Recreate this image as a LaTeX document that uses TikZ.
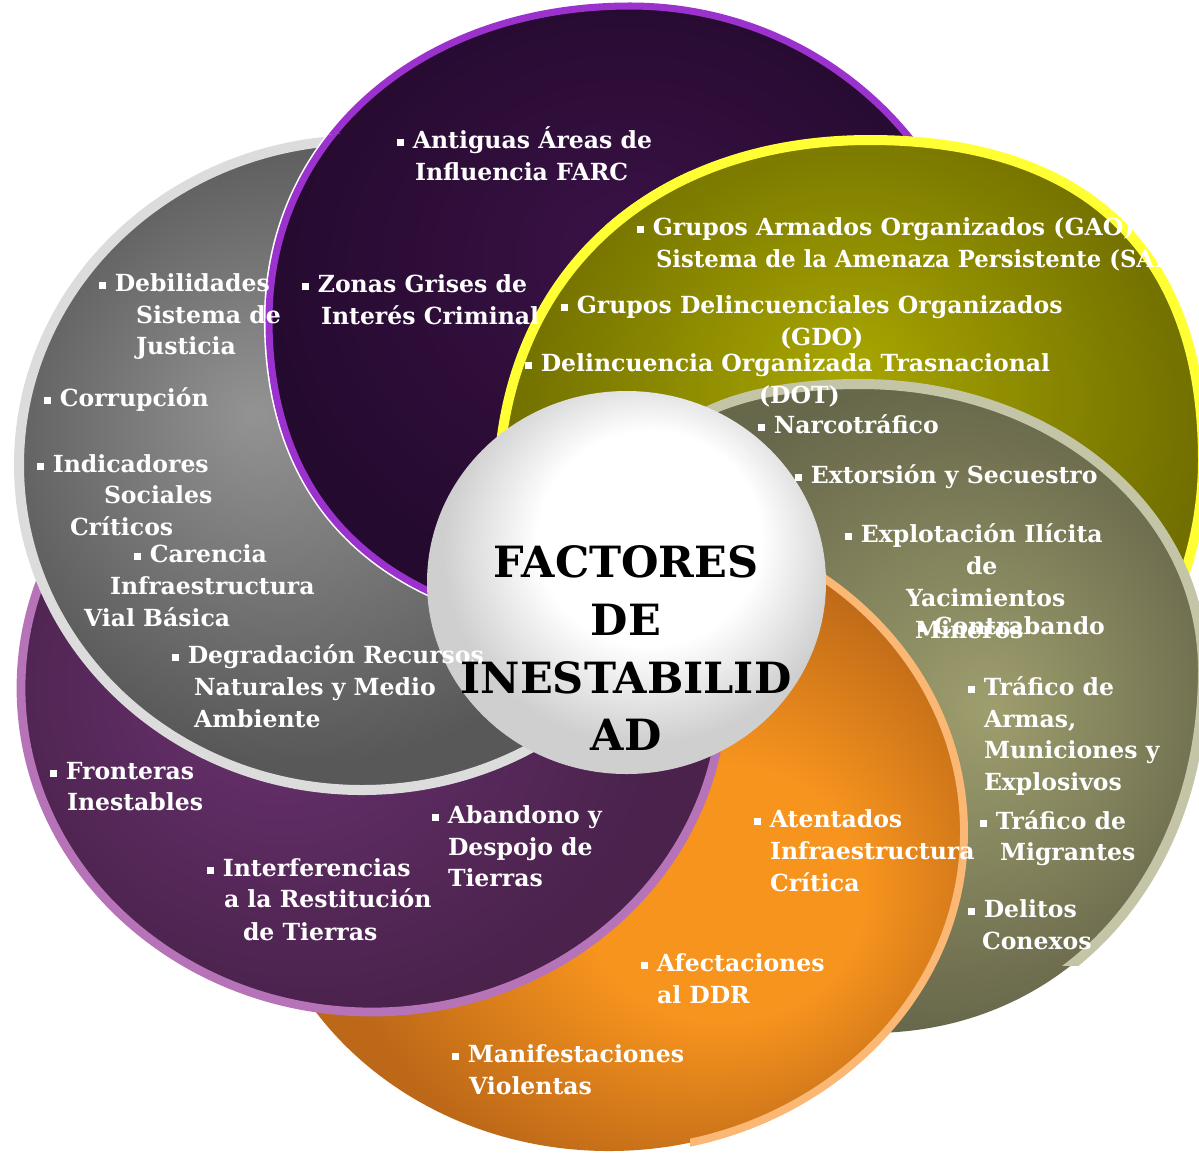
\documentclass[tikz,border=0pt]{standalone}
\usepackage{fontspec}
\usepackage{graphicx}
\setmainfont{DejaVu Serif}

\definecolor{sAin}{HTML}{3A1246}\definecolor{sAout}{HTML}{250A2F}\definecolor{cA}{HTML}{9B32CD}
\definecolor{sBin}{HTML}{A8A600}\definecolor{sBout}{HTML}{716F00}\definecolor{cB}{HTML}{FFFF33}
\definecolor{sCin}{HTML}{9E9E6E}\definecolor{sCout}{HTML}{67674B}\definecolor{cC}{HTML}{C4C4A6}
\definecolor{sDin}{HTML}{F7941E}\definecolor{sDout}{HTML}{BC6818}\definecolor{cD}{HTML}{FAB874}
\definecolor{sEin}{HTML}{6A3270}\definecolor{sEout}{HTML}{4A224C}\definecolor{cE}{HTML}{B673B8}
\definecolor{sFin}{HTML}{939393}\definecolor{sFout}{HTML}{585858}\definecolor{cF}{HTML}{DCDCDC}
\definecolor{sOout}{HTML}{CFCFCF}

\pgfdeclareradialshading{shA}{\pgfpoint{0bp}{6bp}}{color(0bp)=(sAin); color(25bp)=(sAout); color(50bp)=(sAout)}
\pgfdeclareradialshading{shB}{\pgfpoint{0bp}{8bp}}{color(0bp)=(sBin); color(25bp)=(sBout); color(50bp)=(sBout)}
\pgfdeclareradialshading{shC}{\pgfpoint{8bp}{0bp}}{color(0bp)=(sCin); color(25bp)=(sCout); color(50bp)=(sCout)}
\pgfdeclareradialshading{shD}{\pgfpoint{10bp}{-6bp}}{color(0bp)=(sDin); color(10bp)=(sDin); color(25bp)=(sDout); color(50bp)=(sDout)}
\pgfdeclareradialshading{shE}{\pgfpoint{-8bp}{0bp}}{color(0bp)=(sEin); color(25bp)=(sEout); color(50bp)=(sEout)}
\pgfdeclareradialshading{shF}{\pgfpoint{-8bp}{4bp}}{color(0bp)=(sFin); color(25bp)=(sFout); color(50bp)=(sFout)}
\pgfdeclareradialshading{shO}{\pgfpoint{4bp}{8bp}}{color(0bp)=(white); color(14bp)=(white); color(25bp)=(sOout); color(50bp)=(sOout)}

% shapes: top, right, bottom, left points joined by four cubic arcs
\newcommand{\pthA}{(630,6) .. controls (826,6) and (985,160) .. (985,350)
  .. controls (985,505) and (830,632) .. (640,632)
  .. controls (403,632) and (269,520) .. (269,320)
  .. controls (269,138) and (421,6) .. (630,6) -- cycle}
\newcommand{\pthB}{(870,140) .. controls (1086,140) and (1203,252) .. (1203,460)
  .. controls (1203,647) and (1058,800) .. (880,800)
  .. controls (667,800) and (498,665) .. (498,495)
  .. controls (498,280) and (647,140) .. (870,140) -- cycle}
\newcommand{\pthC}{(860,384) .. controls (1052,384) and (1203,510) .. (1203,670)
  .. controls (1203,880) and (1063,1033) .. (870,1033)
  .. controls (710,1033) and (580,874) .. (580,680)
  .. controls (580,473) and (664,384) .. (860,384) -- cycle}
\newcommand{\pthD}{(609,832) ellipse [x radius=355, y radius=319]}
\newcommand{\pthE}{(372,688) ellipse [x radius=351, y radius=324]}
\newcommand{\pthF}{(362,465) ellipse [x radius=343, y radius=325]}
\newcommand{\pthO}{(626.5,582.5) ellipse [x radius=199.5, y radius=191.5]}
\newcommand{\mybul}{\raisebox{1.4pt}{\rule{4pt}{4pt}}\hspace{5pt}}

\tikzset{
  bdA/.style={draw=cA, line width=4pt},
  bdB/.style={draw=cB, line width=5.7pt},
  bdC/.style={draw=cC, line width=5.7pt},
  bdD/.style={draw=cD, line width=4.5pt},
  bdE/.style={draw=cE, line width=5pt},
  bdF/.style={draw=cF, line width=5.7pt},
  txt/.style={anchor=base west, inner sep=0pt, outer sep=0pt, text=white,
              font=\fontsize{13.4pt}{16pt}\selectfont\bfseries},
  ttl/.style={anchor=base, inner sep=0pt, outer sep=0pt, text=black,
              font=\fontsize{24.5pt}{30pt}\selectfont\bfseries}
}

\begin{document}
\begin{tikzpicture}[x=0.02cm, y=-0.02cm]
\useasboundingbox (0,0) rectangle (1199,1157);
\fill[white] (0,0) rectangle (1199,1157);

% 1 dark purple (top)
\shade[shading=shA] \pthA;
\draw[bdA] \pthA;
% 2 olive yellow
\shade[shading=shB] \pthB;
\draw[bdB] \pthB;
% 3 olive gray
\shade[shading=shC] \pthC;
\begin{scope}
  \clip (0,0) rectangle (1199,965);
  \draw[bdC] \pthC;
\end{scope}
% 4 orange
\shade[shading=shD] \pthD;
\begin{scope}
  \clip (690,0) rectangle (1199,1157);
  \draw[bdD] \pthD;
\end{scope}
% 5 purple
\shade[shading=shE] \pthE;
\draw[bdE] \pthE;
% 6 gray
\shade[shading=shF] \pthF;
\draw[bdF] \pthF;
% dark purple again over the gray
\begin{scope}
  \clip (0,0) rectangle (690,1157);
  \clip (362,465) ellipse [x radius=350, y radius=332];
  \draw[white, line width=5.8pt] \pthA;
  \shade[shading=shA] \pthA;
  \draw[bdA] \pthA;
\end{scope}
% olive yellow again over the left shapes
\begin{scope}
  \clip (0,0) rectangle (690,500);
  \shade[shading=shB] \pthB;
  \draw[bdB] \pthB;
\end{scope}
\begin{scope}
  \clip (680,300) rectangle (720,420);
  \shade[shading=shB] \pthB;
\end{scope}
% olive gray patch where it meets the centre
\begin{scope}
  \clip (680,370) rectangle (760,430);
  \shade[shading=shC] \pthC;
  \draw[bdC] \pthC;
\end{scope}
% centre
\shade[shading=shO] \pthO;

% texts, top shape
\node[txt] (a1) at (397,148) {\mybul Antiguas Áreas de};
\node[txt] (a2) at (415,180) {Influencia FARC};
\node[txt] (a3) at (302,292) {\mybul Zonas Grises de};
\node[txt] (a4) at (321,324) {Interés Criminal};
% olive yellow
\node[txt] (b1) at (637,235) {\mybul Grupos Armados Organizados (GAO)};
\node[txt] (b2) at (656,267) {\scalebox{0.965}[1]{Sistema de la Amenaza Persistente (SAP)}};
\node[txt] (b3) at (561,313) {\mybul Grupos Delincuenciales Organizados};
\node[txt] (b4) at (780,345) {(GDO)};
\node[txt] (b5) at (525,371) {\mybul Delincuencia Organizada Trasnacional};
\node[txt] (b6) at (759,403) {(DOT)};
% olive gray
\node[txt] (c1) at (758,433) {\mybul Narcotráfico};
\node[txt] (c2) at (795,483) {\mybul Extorsión y Secuestro};
\node[txt] (c3) at (845,542) {\mybul Explotación Ilícita};
\node[txt] (c4) at (966,574) {de};
\node[txt] (c5) at (906,606) {Yacimientos};
\node[txt] (c6) at (915,638) {Mineros};
\node[txt] (c7) at (918,634) {\mybul Contrabando};
\node[txt] (c8) at (968,695) {\mybul Tráfico de};
\node[txt] (c9) at (984,727) {Armas,};
\node[txt] (c10) at (984,758) {Municiones y};
\node[txt] (c11) at (984,790) {Explosivos};
\node[txt] (c12) at (980,829) {\mybul Tráfico de};
\node[txt] (c13) at (1000,860) {Migrantes};
\node[txt] (c14) at (968,917) {\mybul Delitos};
\node[txt] (c15) at (982,949) {Conexos};
% orange
\node[txt] (d1) at (754,827) {\mybul Atentados};
\node[txt] (d2) at (770,859) {Infraestructura};
\node[txt] (d3) at (770,891) {Crítica};
\node[txt] (d4) at (641,971) {\mybul Afectaciones};
\node[txt] (d5) at (657,1003) {al DDR};
\node[txt] (d6) at (452,1062) {\mybul Manifestaciones};
\node[txt] (d7) at (469,1094) {Violentas};
% purple
\node[txt] (e1) at (50,779) {\mybul Fronteras};
\node[txt] (e2) at (67,810) {Inestables};
\node[txt] (e3) at (207,876) {\mybul Interferencias};
\node[txt] (e4) at (224,907) {a la Restitución};
\node[txt] (e5) at (243,940) {de Tierras};
\node[txt] (e6) at (432,823) {\mybul Abandono y};
\node[txt] (e7) at (448,855) {Despojo de};
\node[txt] (e8) at (448,886) {Tierras};
% gray
\node[txt] (f1) at (99,291) {\mybul Debilidades};
\node[txt] (f2) at (136,323) {Sistema de};
\node[txt] (f3) at (136,354) {Justicia};
\node[txt] (f4) at (44,406) {\mybul Corrupción};
\node[txt] (f5) at (37,472) {\mybul Indicadores};
\node[txt] (f6) at (104,503) {Sociales};
\node[txt] (f7) at (70,535) {Críticos};
\node[txt] (f8) at (134,562) {\mybul Carencia};
\node[txt] (f9) at (110,594) {Infraestructura};
\node[txt] (f10) at (84,626) {Vial Básica};
\node[txt] (f11) at (172,663) {\mybul Degradación Recursos};
\node[txt] (f12) at (194,695) {Naturales y Medio};
\node[txt] (f13) at (194,727) {Ambiente};
% title
\node[ttl] (t1) at (626,577) {FACTORES};
\node[ttl] (t2) at (626,635) {DE};
\node[ttl] (t3) at (626,693) {INESTABILID};
\node[ttl] (t4) at (626,750) {AD};
\end{tikzpicture}
\end{document}
